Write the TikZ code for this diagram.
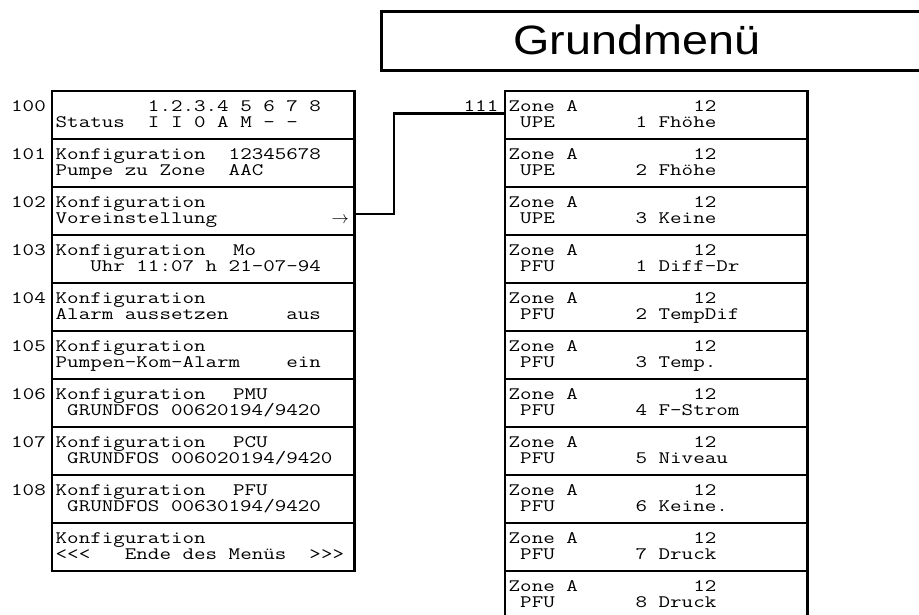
\documentclass[tikz,border=0pt]{standalone}
\usepackage{fontspec}
\setmainfont{Liberation Sans}
\newcommand\monofs{\ttfamily\fontsize{17.5}{18}\selectfont}
\newcommand\titlefs{\rmfamily\fontsize{41}{41}\selectfont}
\newcommand\mt[1]{\scalebox{1.28}[1]{#1}}
\tikzset{
  cellbox/.style={draw, line width=2.6pt, minimum width=302.8pt, minimum height=48pt,
    inner sep=0pt, outer sep=0pt, anchor=north west},
  txt/.style={anchor=base west, inner sep=0pt, font=\monofs},
  lbl/.style={anchor=base east, inner sep=0pt, font=\monofs},
  conn/.style={line width=2.6pt},
}
\newcommand\lrow[3]{%
  \node[cellbox] (L#1) at (51.8,{91+48*#1}) {};
  \node[txt] (L#1a) at (55.5,{111.3+48*#1}) {\mt{#2}};
  \node[txt] (L#1b) at (55.5,{127.8+48*#1}) {\mt{#3}};
}
\newcommand\rrow[3]{%
  \node[cellbox] (R#1) at (504.8,{91+48*#1}) {};
  \node[txt] (R#1a) at (508.5,{111.3+48*#1}) {\mt{Zone A~~~~~~~~~~12}};
  \node[txt] (R#1b) at (508.5,{127.8+48*#1}) {\mt{~#2~~~~~~~#3}};
}
\begin{document}
\begin{tikzpicture}[x=1pt,y=-1pt]
\useasboundingbox (0,0) rectangle (919,615);
\clip (0,0) rectangle (919,615);
% title
\draw[line width=3pt] (381.5,11.5) rectangle (935,70.5);
\node[anchor=base, inner sep=0pt, font=\titlefs] (title) at (636.7,54.5) {\scalebox{1.14}[1]{Grundmenü}};
% left column
\lrow{0}{~~~~~~~~1.2.3.4 5 6 7 8}{Status~~I I 0 A M - -}
\lrow{1}{Konfiguration~~12345678}{Pumpe zu Zone~~AAC}
\lrow{2}{Konfiguration}{Voreinstellung}
\lrow{3}{Konfiguration\hspace{21.5pt}Mo}{~~~Uhr 11:07 h 21-07-94}
\lrow{4}{Konfiguration}{Alarm aussetzen~~~~~aus}
\lrow{5}{Konfiguration}{Pumpen-Kom-Alarm~~~~ein}
\lrow{6}{Konfiguration\hspace{21.5pt}PMU}{~GRUNDFOS 00620194/9420}
\lrow{7}{Konfiguration\hspace{21.5pt}PCU}{~GRUNDFOS 006020194/9420}
\lrow{8}{Konfiguration\hspace{21.5pt}PFU}{~GRUNDFOS 00630194/9420}
\lrow{9}{Konfiguration}{<\kern0pt<\kern0pt<~~~Ende des Menüs~~>\kern0pt>\kern0pt>}
\node[anchor=base east, inner sep=0pt, font=\monofs] (arr) at (349,223.8) {$\rightarrow$};
% labels
\node[lbl] (n100) at (46,111.3) {\mt{100}};
\node[lbl] (n101) at (46,159.3) {\mt{101}};
\node[lbl] (n102) at (46,207.3) {\mt{102}};
\node[lbl] (n103) at (46,255.3) {\mt{103}};
\node[lbl] (n104) at (46,303.3) {\mt{104}};
\node[lbl] (n105) at (46,351.3) {\mt{105}};
\node[lbl] (n106) at (46,399.3) {\mt{106}};
\node[lbl] (n107) at (46,447.3) {\mt{107}};
\node[lbl] (n108) at (46,495.3) {\mt{108}};
% right column
\rrow{0}{UPE}{1 Fhöhe}
\rrow{1}{UPE}{2 Fhöhe}
\rrow{2}{UPE}{3 Keine}
\rrow{3}{PFU}{1 Diff-Dr}
\rrow{4}{PFU}{2 TempDif}
\rrow{5}{PFU}{3 Temp.}
\rrow{6}{PFU}{4 F-Strom}
\rrow{7}{PFU}{5 Niveau}
\rrow{8}{PFU}{6 Keine.}
\rrow{9}{PFU}{7 Druck}
\rrow{10}{PFU}{8 Druck}
\node[lbl] (n111) at (498.5,111.3) {\mt{111}};
% connector
\draw[conn] ([yshift=-3pt]L2.east) -- ++(39.5,0) |- ([yshift=1.5pt]R0.west);
\end{tikzpicture}
\end{document}
